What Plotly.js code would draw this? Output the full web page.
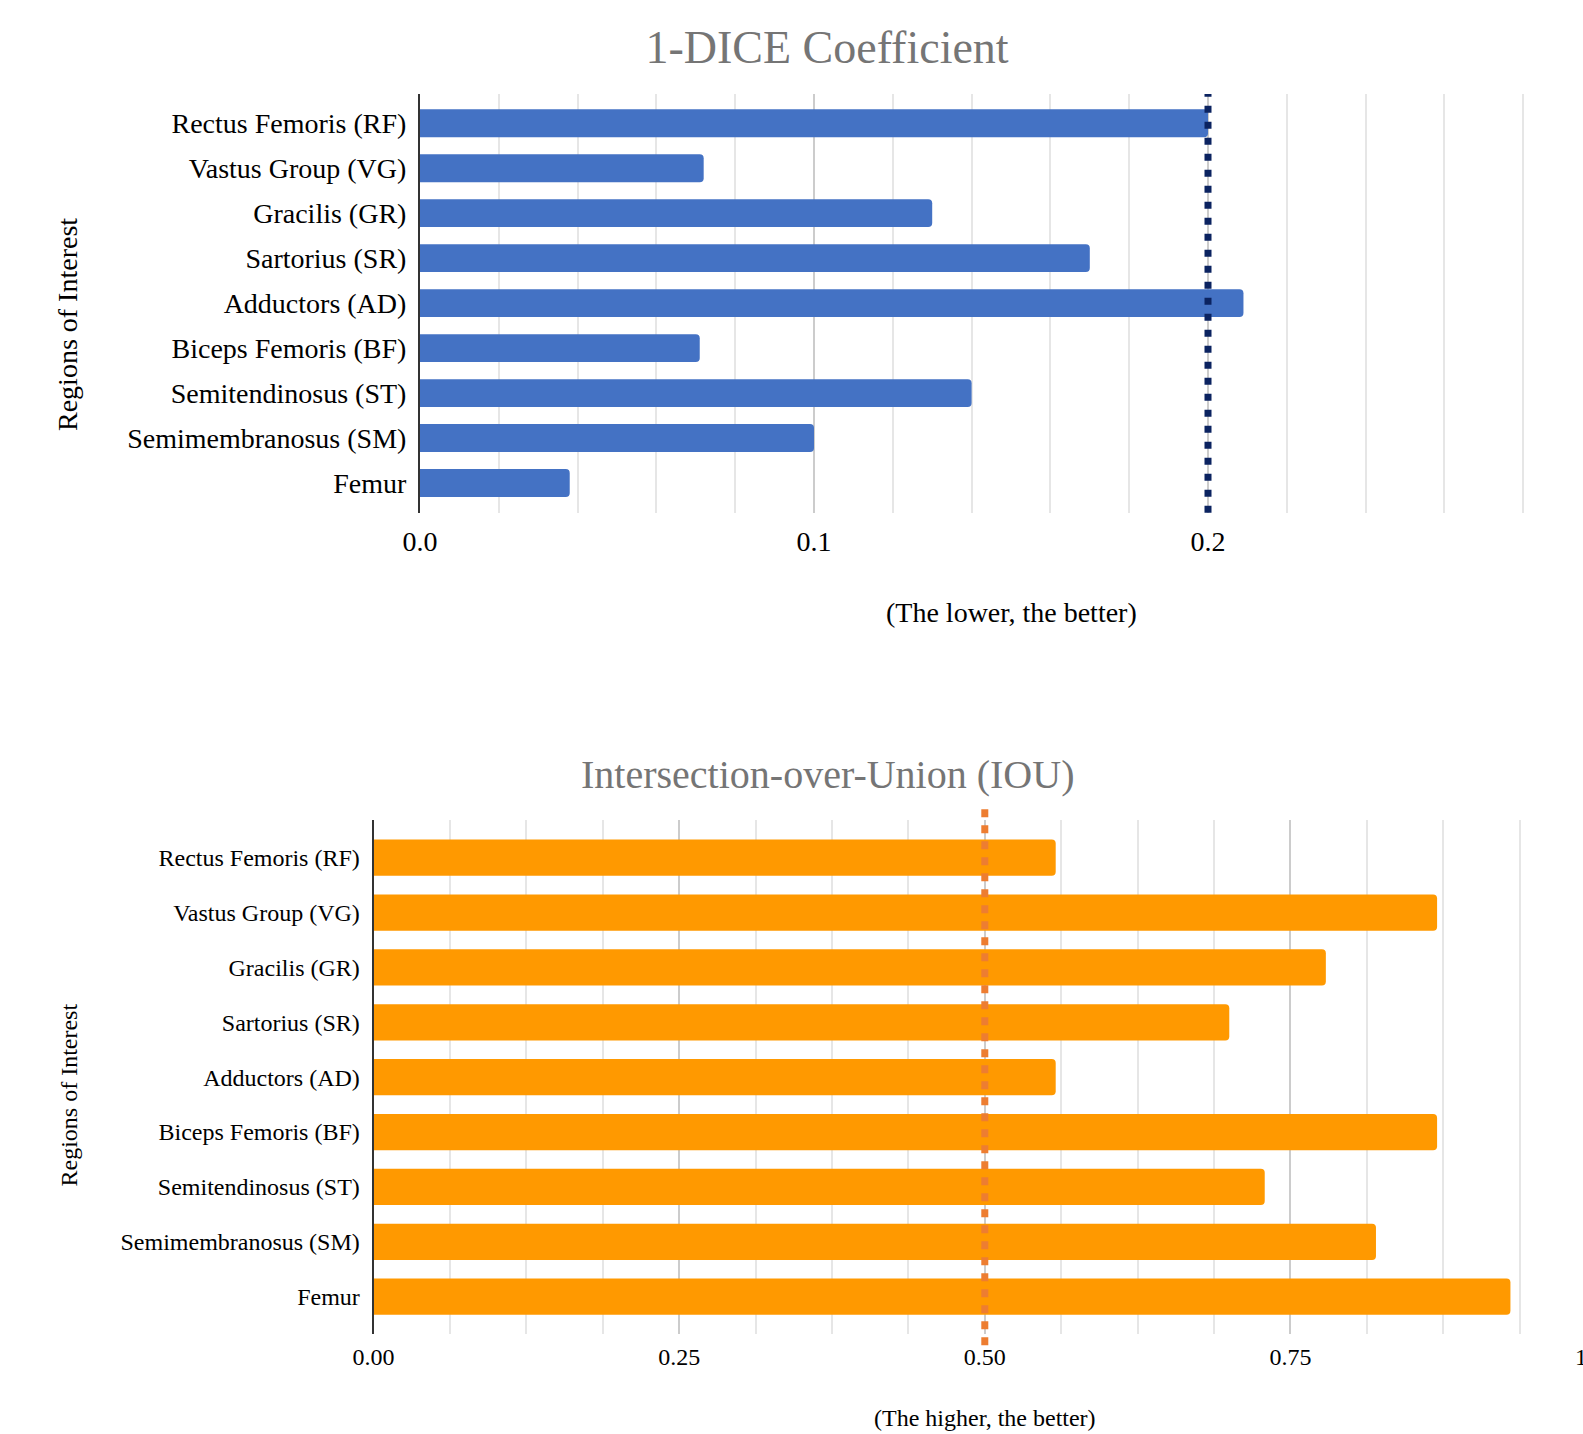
<!DOCTYPE html>
<html>
<head>
<meta charset="utf-8">
<script src="https://cdn.plot.ly/plotly-3.0.1.min.js"></script>
<style>
  html, body { margin: 0; padding: 0; overflow: hidden; background: #ffffff; }
  #chart { width: 1640px; height: 1434px; }
</style>
</head>
<body>
<div id="chart"></div>
<script>
// ---- data ----
const regions = [
  "Rectus Femoris (RF)",
  "Vastus Group (VG)",
  "Gracilis (GR)",
  "Sartorius (SR)",
  "Adductors (AD)",
  "Biceps Femoris (BF)",
  "Semitendinosus (ST)",
  "Semimembranosus (SM)",
  "Femur"
];
const diceLoss = [0.200, 0.072, 0.130, 0.170, 0.209, 0.071, 0.140, 0.100, 0.038];
const iouValues = [0.558, 0.870, 0.779, 0.700, 0.558, 0.870, 0.729, 0.820, 0.930];
const diceThreshold = 0.2;
const iouThreshold = 0.5;
const titleDice = "1-DICE Coefficient";
const titleIou = "Intersection-over-Union (IOU)";
const xTitleDice = "(The lower, the better)";
const xTitleIou = "(The higher, the better)";
const yTitle = "Regions of Interest";

// ---- layout helpers ----
const W = 1640, H = 1434;
const serif = "Liberation Serif, Times New Roman, serif";
const px = v => v / W;
const py = v => (H - v) / H;

const traces = [
  {
    type: "bar", orientation: "h",
    x: diceLoss, y: regions,
    xaxis: "x", yaxis: "y",
    width: 0.62,
    marker: { color: "#4472C4", cornerradius: 4 },
    hoverinfo: "x+y", showlegend: false
  },
  {
    type: "bar", orientation: "h",
    x: iouValues, y: regions,
    xaxis: "x2", yaxis: "y2",
    width: 0.66,
    marker: { color: "#FF9900", cornerradius: 4 },
    hoverinfo: "x+y", showlegend: false
  }
];

const layout = {
  width: W, height: H,
  margin: { l: 0, r: 0, t: 0, b: 0, pad: 0 },
  paper_bgcolor: "#ffffff",
  plot_bgcolor: "#ffffff",
  font: { family: serif, color: "#000000" },
  title: {
    text: titleDice,
    font: { family: serif, size: 46, color: "#757575" },
    x: px(827), xanchor: "center", xref: "paper",
    y: py(47), yanchor: "middle", yref: "paper"
  },
  xaxis: {
    domain: [px(420), px(1602)],
    anchor: "y",
    range: [0, 0.3],
    dtick: 0.1, tick0: 0,
    tickformat: ".1f",
    showgrid: true, gridcolor: "#cccccc", gridwidth: 2,
    minor: { dtick: 0.02, showgrid: true, gridcolor: "#e6e6e6", gridwidth: 2 },
    zeroline: false, showline: false,
    ticks: "", ticklabelstandoff: 9,
    tickfont: { family: serif, size: 28, color: "#000000" },
    fixedrange: true
  },
  yaxis: {
    domain: [py(512.7), py(94)],
    anchor: "x",
    type: "category",
    categoryorder: "array", categoryarray: regions,
    range: [8.66, -0.65],
    showgrid: false, zeroline: false,
    showline: true, linecolor: "#333333", linewidth: 2,
    ticks: "", ticklabelstandoff: 6,
    tickfont: { family: serif, size: 28, color: "#000000" },
    fixedrange: true
  },
  xaxis2: {
    domain: [px(373.6), px(1596)],
    anchor: "y2",
    range: [0, 1],
    dtick: 0.25, tick0: 0,
    tickformat: ".2f",
    showgrid: true, gridcolor: "#cccccc", gridwidth: 2,
    minor: { dtick: 0.0625, showgrid: true, gridcolor: "#e6e6e6", gridwidth: 2 },
    zeroline: false, showline: false,
    ticks: "", ticklabelstandoff: 6,
    tickfont: { family: serif, size: 24, color: "#000000" },
    fixedrange: true
  },
  yaxis2: {
    domain: [py(1334), py(820.4)],
    anchor: "x2",
    type: "category",
    categoryorder: "array", categoryarray: regions,
    range: [8.68, -0.68],
    showgrid: false, zeroline: false,
    showline: true, linecolor: "#333333", linewidth: 2,
    ticks: "", ticklabelstandoff: 7,
    tickfont: { family: serif, size: 24, color: "#000000" },
    fixedrange: true
  },
  shapes: [
    {
      type: "line", layer: "above",
      xref: "x", x0: diceThreshold, x1: diceThreshold,
      yref: "y domain", y0: 0, y1: 1,
      line: { color: "#0B2360", width: 7, dash: "7px,9px" }
    },
    {
      type: "line", layer: "above",
      xref: "x2", x0: iouThreshold, x1: iouThreshold,
      yref: "y2 domain", y0: -0.022, y1: 1.025,
      line: { color: "#ED7D31", width: 7, dash: "8px,8px" }
    }
  ],
  annotations: [
    {
      text: titleIou, showarrow: false,
      xref: "paper", x: px(827), xanchor: "center",
      yref: "paper", y: py(774), yanchor: "middle",
      font: { family: serif, size: 40, color: "#757575" }
    },
    {
      text: xTitleDice, showarrow: false,
      xref: "x domain", x: 0.5, xanchor: "center",
      yref: "paper", y: py(612), yanchor: "middle",
      font: { family: serif, size: 28, color: "#000000" }
    },
    {
      text: xTitleIou, showarrow: false,
      xref: "x2 domain", x: 0.5, xanchor: "center",
      yref: "paper", y: py(1418), yanchor: "middle",
      font: { family: serif, size: 24, color: "#000000" }
    },
    {
      text: yTitle, showarrow: false, textangle: -90,
      xref: "paper", x: px(68), xanchor: "center",
      yref: "paper", y: py(325), yanchor: "middle",
      font: { family: serif, size: 28, color: "#000000" }
    },
    {
      text: yTitle, showarrow: false, textangle: -90,
      xref: "paper", x: px(68.5), xanchor: "center",
      yref: "paper", y: py(1095), yanchor: "middle",
      font: { family: serif, size: 24, color: "#000000" }
    }
  ]
};

Plotly.newPlot("chart", traces, layout, { displayModeBar: false, responsive: false });
</script>
</body>
</html>
